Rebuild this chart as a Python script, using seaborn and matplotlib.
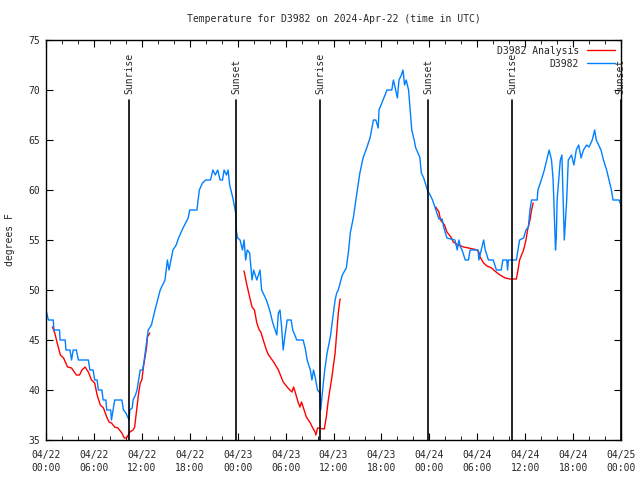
import pandas as pd
import matplotlib
matplotlib.use('Agg')
import matplotlib.pyplot as plt
import matplotlib.dates as mdates
from matplotlib.ticker import MultipleLocator
from matplotlib.lines import Line2D
import seaborn as sns

# Data (hours since 2024-04-22 00:00 UTC, temperature in F)
start = pd.Timestamp('2024-04-22 00:00')

obs_hours = [0.0, 0.3, 0.9, 1.0, 1.7, 1.75, 2.4, 2.5, 3.0, 3.2, 3.4, 3.8, 4.05, 5.3, 5.5, 5.9,
             6.1, 6.4, 6.55, 7.0, 7.15, 7.5, 7.6, 8.1, 8.2, 8.4, 8.6, 9.5, 9.7, 10.0, 10.4,
             10.5, 10.8, 10.9, 11.2, 11.4, 11.8, 12.1, 12.3, 12.8, 13.2, 13.65, 14.3, 14.9,
             15.2, 15.4, 15.9, 16.3, 16.6, 17.1, 17.8, 18.0, 18.9, 19.2, 19.6, 20.0, 20.6,
             20.9, 21.2, 21.5, 21.8, 22.1, 22.3, 22.6, 22.8, 23.0, 23.4, 23.75, 23.85, 24.0,
             24.3, 24.6, 24.8, 25.0, 25.2, 25.5, 25.8, 26.0, 26.4, 26.8, 27.0, 27.6, 28.0,
             28.4, 28.7, 28.9, 29.1, 29.3, 29.5, 29.7, 29.9, 30.2, 30.7, 30.9, 31.4, 32.2,
             32.5, 32.7, 33.1, 33.3, 33.5, 33.7, 34.0, 34.3, 34.4, 34.6, 34.9, 35.2, 35.6,
             36.2, 36.4, 36.6, 37.1, 37.6, 37.9, 38.1, 38.5, 38.8, 39.3, 39.7, 40.2, 40.6,
             41.0, 41.3, 41.6, 41.7, 42.2, 42.7, 43.3, 43.5, 43.7, 44.0, 44.2, 44.5, 44.7,
             44.9, 45.1, 45.4, 45.6, 45.8, 46.1, 46.3, 46.8, 47.0, 47.3, 47.75, 48.1, 48.4,
             48.7, 49.2, 49.6, 49.8, 50.2, 51.2, 51.5, 51.7, 51.9, 52.1, 52.5, 52.9, 53.1,
             54.1, 54.2, 54.5, 54.8, 55.0, 55.4, 56.0, 56.4, 57.0, 57.2, 57.7, 57.8, 57.9,
             58.9, 59.3, 59.8, 60.1, 60.4, 60.6, 60.8, 61.5, 61.6, 62.1, 62.4, 62.7, 63.0,
             63.3, 63.5, 63.7, 63.8, 63.9, 64.0, 64.2, 64.4, 64.6, 64.8, 64.9, 65.0, 65.2,
             65.4, 65.8, 66.1, 66.4, 66.7, 67.0, 67.3, 67.7, 68.0, 68.4, 68.7, 68.9, 69.2,
             69.5, 69.8, 70.2, 70.5, 70.8, 71.0, 71.75, 72.0]
obs_temp = [48.0, 47.0, 47.0, 46.0, 46.0, 45.0, 45.0, 44.0, 44.0, 43.0, 44.0, 44.0, 43.0, 43.0, 42.0, 42.0,
            41.0, 41.0, 40.0, 40.0, 39.0, 39.0, 38.0, 38.0, 37.0, 38.0, 39.0, 39.0, 38.0, 37.7, 37.0,
            38.0, 38.2, 39.0, 39.5, 40.0, 42.0, 42.0, 43.0, 46.0, 46.5, 48.0, 50.0, 51.0,
            53.0, 52.0, 54.0, 54.5, 55.2, 56.1, 57.2, 58.0, 58.0, 60.0, 60.7, 61.0, 61.0,
            62.0, 61.5, 62.0, 61.0, 61.0, 62.0, 61.5, 62.0, 60.5, 59.2, 57.7, 55.8, 55.2,
            55.0, 54.0, 55.0, 53.0, 54.0, 53.7, 51.0, 52.0, 51.0, 52.0, 50.0, 49.0, 48.0,
            46.7, 46.0, 45.5, 47.7, 48.0, 46.3, 44.0, 45.3, 47.0, 47.0, 46.0, 45.0, 45.0,
            44.0, 43.0, 42.0, 41.0, 42.0, 41.3, 40.0, 39.7, 38.0, 39.7, 42.0, 43.7, 45.3,
            49.0, 49.7, 50.0, 51.5, 52.2, 54.0, 55.7, 57.3, 59.0, 61.7, 63.2, 64.3, 65.3,
            67.0, 67.0, 66.2, 68.0, 69.0, 70.0, 70.0, 71.0, 70.3, 69.2, 71.0, 71.5, 72.0,
            70.5, 71.0, 70.0, 68.0, 66.0, 65.0, 64.2, 63.3, 61.7, 61.2, 60.0, 59.5, 59.0,
            58.3, 57.1, 57.1, 56.3, 55.2, 55.0, 54.0, 55.0, 54.3, 54.0, 53.0, 53.0, 54.0,
            54.0, 53.0, 54.0, 55.0, 54.0, 53.0, 53.0, 52.0, 52.0, 53.0, 53.0, 52.0, 53.0,
            53.0, 55.0, 55.2, 56.0, 56.3, 58.0, 59.0, 59.0, 60.0, 61.2, 62.0, 63.0, 64.0,
            63.0, 61.0, 56.3, 54.0, 55.3, 59.0, 61.0, 63.0, 63.5, 57.7, 55.0, 56.3, 59.0,
            63.0, 63.5, 62.5, 64.0, 64.5, 63.2, 64.0, 64.5, 64.3, 65.0, 66.0, 65.0, 64.5,
            64.0, 63.0, 62.0, 61.0, 60.0, 59.0, 59.0, 58.5]

# analysis, three separate runs
ana_hours = [
    [0.8, 1.1, 1.4, 1.8, 2.2, 2.7, 3.2, 3.8, 4.2, 4.5, 4.9, 5.3, 5.7, 6.1, 6.4, 6.8, 7.2,
     7.6, 7.9, 8.2, 8.6, 9.0, 9.5, 9.8, 10.1, 10.3, 10.5, 10.9, 11.1, 11.35, 11.6, 11.8,
     12.0, 12.2, 12.4, 12.6, 12.7, 13.0],
    [24.8, 25.1, 25.5, 25.8, 26.1, 26.4, 26.7, 26.9, 27.2, 27.6, 27.8, 28.5, 29.1, 29.7,
     30.3, 30.8, 31.0, 31.2, 31.6, 31.8, 32.0, 32.2, 32.6, 33.1, 33.4, 33.7, 33.8, 34.0,
     34.85, 35.1, 35.35, 35.8, 36.2, 36.4, 36.6, 36.8, 36.85],
    [48.8, 49.2, 49.4, 49.9, 50.2, 50.7, 51.0, 51.6, 52.3, 52.9, 53.5, 54.0, 54.2, 54.35,
     54.8, 55.2, 55.8, 56.2, 56.85, 57.5, 58.1, 58.9, 59.1, 59.3, 59.8, 60.1, 60.3, 60.6,
     60.8, 61.0],
]
ana_temp = [
    [46.3, 45.7, 44.7, 43.5, 43.2, 42.3, 42.2, 41.5, 41.5, 42.0, 42.3, 41.8, 41.0, 40.7, 39.5, 38.5, 38.2,
     37.3, 36.8, 36.7, 36.3, 36.2, 35.7, 35.2, 35.2, 35.5, 35.8, 36.0, 36.3, 38.0, 39.7, 40.7,
     41.0, 42.3, 43.3, 44.3, 45.3, 45.7],
    [51.9, 50.7, 49.3, 48.3, 48.0, 46.7, 46.0, 45.8, 45.0, 44.0, 43.6, 42.8, 42.0, 40.8,
     40.2, 39.8, 40.3, 39.8, 38.7, 38.3, 38.8, 38.3, 37.3, 36.7, 36.2, 35.8, 35.5, 36.2,
     36.1, 37.3, 39.0, 41.3, 43.7, 45.7, 47.7, 49.0, 49.1],
    [58.3, 57.8, 57.0, 56.5, 55.8, 55.3, 54.8, 54.5, 54.3, 54.2, 54.1, 54.0, 53.8, 53.3,
     52.7, 52.4, 52.2, 51.9, 51.5, 51.2, 51.1, 51.1, 52.0, 53.0, 54.0, 55.0, 56.0, 57.0,
     58.0, 58.7],
]

sunrise_hours = [10.42, 34.35, 58.38]
sunset_hours = [23.8, 47.87, 71.95]

def to_time(hours):
    return start + pd.to_timedelta(hours, unit='h')

sns.set_style('ticks')
plt.rcParams['font.family'] = ['DejaVu Sans Mono']
red = '#ff0000'
blue = '#0080ff'

fig, ax = plt.subplots(figsize=(6.4, 4.8), dpi=100)
fig.subplots_adjust(left=46/640, right=621/640, top=440/480, bottom=40/480)

for hrs, tmp in zip(ana_hours, ana_temp):
    sns.lineplot(x=to_time(hrs), y=tmp, color=red, lw=1, ax=ax)
sns.lineplot(x=to_time(obs_hours), y=obs_temp, color=blue, lw=1, ax=ax)

# sunrise / sunset markers
trans = ax.get_xaxis_transform()
for name, hrs in [('Sunrise', sunrise_hours), ('Sunset', sunset_hours)]:
    for h in hrs:
        t = to_time(h)
        ax.axvline(t, ymin=0, ymax=0.85, color='black', lw=1.2)
        ax.text(t, 0.865, name, transform=trans, rotation=90, ha='center', va='bottom', fontsize=7)

ax.set_xlim(to_time(0), to_time(72))
ax.set_ylim(35, 75)
ax.xaxis.set_major_locator(mdates.HourLocator(byhour=range(0, 24, 6)))
ax.xaxis.set_minor_locator(mdates.HourLocator(byhour=range(0, 24, 2)))
ax.xaxis.set_major_formatter(mdates.DateFormatter('%m/%d\n%H:%M'))
ax.yaxis.set_major_locator(MultipleLocator(5))
ax.tick_params(which='both', direction='in', top=True, right=True, labelsize=7, color='black')
ax.tick_params(axis='x', which='major', length=5, pad=7)
ax.tick_params(axis='x', which='minor', length=3)
ax.tick_params(axis='y', which='major', length=5, pad=4)
for s in ax.spines.values():
    s.set_color('black')
    s.set_linewidth(1)

ax.set_title('Temperature for D3982 on 2024-Apr-22 (time in UTC)', fontsize=7, pad=13)
ax.set_ylabel('degrees F', fontsize=7, labelpad=10)
ax.set_xlabel('')
ax.xaxis.label.set_visible(False)

handles = [Line2D([], [], color=red, lw=1), Line2D([], [], color=blue, lw=1)]
ax.legend(handles, ['D3982 Analysis', 'D3982'], loc='upper right', frameon=False,
          markerfirst=False, fontsize=7, handlelength=2.9, handletextpad=0.8,
          labelspacing=0.3, borderaxespad=0.2)

fig.canvas.draw()
for lbl in ax.get_xticklabels():
    lbl.set_linespacing(1.45)

fig.savefig('out.png', dpi=100)
